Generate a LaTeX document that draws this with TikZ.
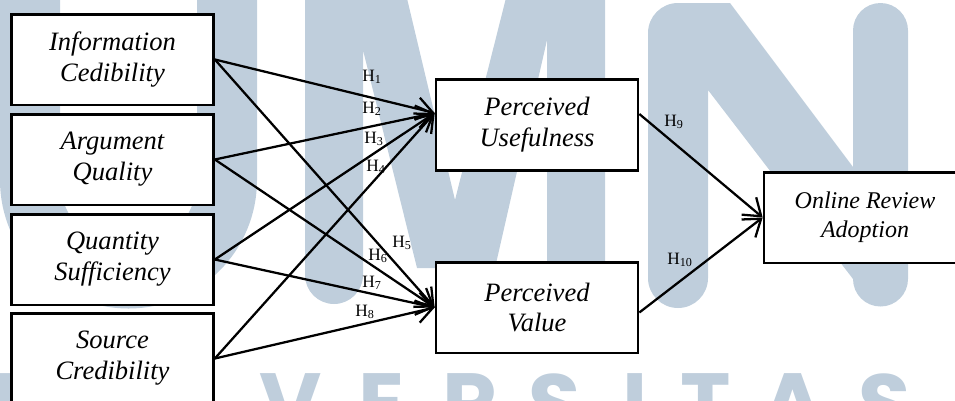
\documentclass[tikz,border=0pt]{standalone}
\usepackage{fontspec}
\setmainfont{Liberation Serif}
\newfontfamily\wmfont{Poppins}
\usetikzlibrary{arrows.meta,calc}
\definecolor{wmblue}{RGB}{191,206,220}
\begin{document}
\begin{tikzpicture}[x=0.75pt,y=-0.75pt,
  wmletter/.style={text=wmblue,font=\wmfont\bfseries\fontsize{64}{64}\selectfont,inner sep=0pt,anchor=north},
  var/.style={draw,line width=2pt,fill=white,align=center,minimum width=151.5pt,minimum height=68pt,inner sep=0pt,font=\itshape\fontsize{19.9}{23.2}\selectfont},
  varsm/.style={var,font=\itshape\fontsize{18}{21.75}\selectfont},
  arr/.style={line width=1.7pt,-{Straight Barb[length=12pt,width=17pt]}},
  hyp/.style={font=\fontsize{13}{14}\selectfont,inner sep=0pt,anchor=mid west}]
\useasboundingbox (0,0) rectangle (955,400);
\begin{scope}
\clip (0,0) rectangle (955,400);
% watermark
\draw[wmblue,line width=45pt] (30,-40) -- (30,180) arc[start angle=180,end angle=0,radius=98.5] -- (227,-40);
\fill[wmblue] (305,-10) -- (305,275) arc[start angle=180,end angle=0,radius=29] -- (363,50) -- (417,268) -- (495,268) -- (547,40) -- (547,276) arc[start angle=180,end angle=0,radius=29] -- (605,-10) -- (508,-10) -- (455,200) -- (405,-10) -- cycle;
\fill[wmblue] (648,278) -- (648,33) arc[start angle=180,end angle=270,radius=30] -- (730,3) -- (853,167) -- (853,30.5) arc[start angle=180,end angle=360,radius=27.5] -- (908,279) arc[start angle=0,end angle=180,radius=27.5] -- (708,90) -- (708,278) arc[start angle=0,end angle=180,radius=30] -- cycle;
\foreach \l/\x in {U/22,V/291,E/382,R/470,S/555,I/635,T/706,A/793,S/885}
  \node[wmletter] (wm\x) at (\x,373) {\l};
% variables
\node[var] (ic) at (112.5,59.5) {Information\\Cedibility};
\node[var] (aq) at (112.5,159.5) {Argument\\Quality};
\node[var] (qs) at (112.5,259.5) {Quantity\\Sufficiency};
\node[var] (sc) at (112.5,358.5) {Source\\Credibility};
\node[var] (pu) at (537,125) {Perceived\\Usefulness};
\node[var] (pv) at (537,307.5) {Perceived\\Value};
\node[varsm] (ora) at (865,217.5) {Online Review\\Adoption};
\coordinate (puin) at ($(pu.west)+(0,-12)$);
\coordinate (puout) at ($(pu.east)+(0,-11)$);
\coordinate (pvout) at ($(pv.east)+(0,5)$);
\foreach \s in {ic,aq,qs,sc} {
  \draw[arr] (\s.east) -- (puin);
  \draw[arr] (\s.east) -- (pv.west);
}
\draw[arr] (puout) -- (ora.west);
\draw[arr] (pvout) -- (ora.west);
% labels
\node[hyp] (h1) at (362,78) {H\textsubscript{1}};
\node[hyp] (h2) at (362,110) {H\textsubscript{2}};
\node[hyp] (h3) at (364,140) {H\textsubscript{3}};
\node[hyp] (h4) at (366,168) {H\textsubscript{4}};
\node[hyp] (h5) at (392,244) {H\textsubscript{5}};
\node[hyp] (h6) at (368,257) {H\textsubscript{6}};
\node[hyp] (h7) at (362,284) {H\textsubscript{7}};
\node[hyp] (h8) at (355,313) {H\textsubscript{8}};
\node[hyp] (h9) at (664,123) {H\textsubscript{9}};
\node[hyp] (h10) at (667,261) {H\textsubscript{10}};
\end{scope}
\end{tikzpicture}
\end{document}
